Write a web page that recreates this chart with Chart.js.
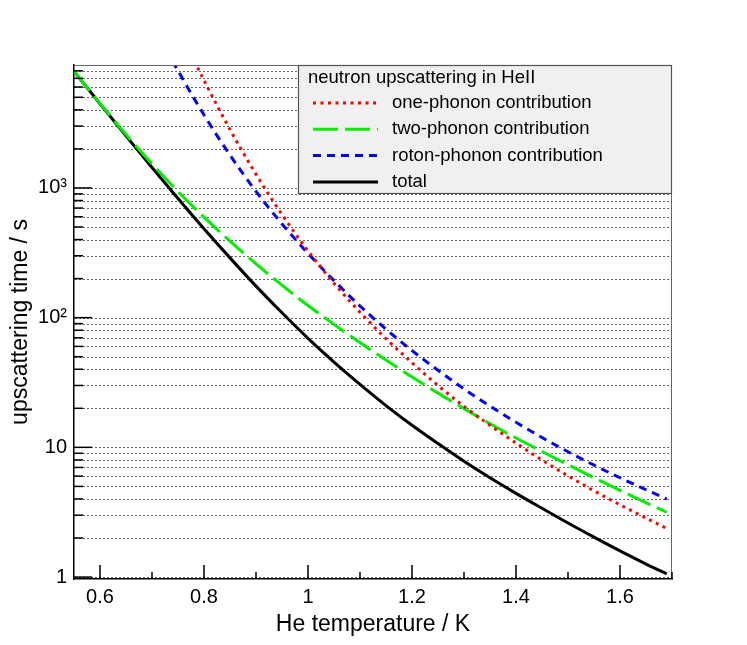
<!DOCTYPE html>
<html>
<head>
<meta charset="utf-8">
<script src="https://cdn.jsdelivr.net/npm/chart.js@4.4.1/dist/chart.umd.min.js"></script>
<style>
  html, body { margin: 0; padding: 0; background: #fff; }
</style>
</head>
<body>
<canvas id="chart" width="747" height="645"></canvas>
<script>
// temperatures in K, times in s
const temperatures = [0.55, 0.6, 0.65, 0.7, 0.75, 0.8, 0.85, 0.9, 0.95, 1.0, 1.05, 1.1,
                      1.15, 1.2, 1.25, 1.3, 1.35, 1.4, 1.45, 1.5, 1.55, 1.6, 1.65, 1.69];
const onePhonon = [null, null, null, null, 17400, 6760, 2820, 1274, 624, 327, 184, 110,
                   68.7, 44.9, 30.0, 20.7, 14.8, 10.8, 7.98, 6.03, 4.62, 3.61, 2.85, 2.37];
const twoPhonon = [7943, 4487, 2582, 1531, 938, 596, 389, 260, 178, 124, 88.7, 64.3,
                   47.1, 34.9, 26.2, 19.9, 15.2, 11.8, 9.29, 7.35, 5.83, 4.66, 3.74, 3.16];
const rotonPhonon = [null, null, null, 18300, 8000, 3656, 1791, 940, 528, 313, 193, 123,
                     81.5, 55.7, 39.3, 28.2, 20.8, 15.6, 11.9, 9.25, 7.29, 5.83, 4.71, 3.99];
const total = [7943, 4457, 2518, 1439, 830, 485, 289, 175, 109, 69.3, 45.5, 30.6,
               21.0, 14.8, 10.7, 7.82, 5.83, 4.42, 3.39, 2.61, 2.03, 1.59, 1.26, 1.06];

const yGridValues = [1, 2, 3, 4, 5, 6, 7, 8, 9,
                     10, 20, 30, 40, 50, 60, 70, 80, 90,
                     100, 200, 300, 400, 500, 600, 700, 800, 900,
                     1000, 2000, 3000, 4000, 5000, 6000, 7000, 8000];
const yTickLabels = {1: '1', 10: '10', 100: '10²', 1000: '10³'};
const xMajorTicks = [0.6, 0.8, 1, 1.2, 1.4, 1.6];
const xMinorTicks = [0.7, 0.9, 1.1, 1.3, 1.5, 1.7];

const legendTitle = 'neutron upscattering in HeII';

Chart.defaults.font.family = "'Liberation Sans', Arial, sans-serif";
Chart.defaults.color = '#000';

function toPoints(values) {
    return temperatures
        .map((t, i) => ({x: t, y: values[i]}))
        .filter(p => p.y !== null);
}

// dotted horizontal grid at every log tick
const gridPlugin = {
    id: 'dottedGrid',
    beforeDatasetsDraw(chart) {
        const {ctx, chartArea: a, scales: {y}} = chart;
        ctx.save();
        ctx.strokeStyle = '#666';
        ctx.lineWidth = 1;
        ctx.setLineDash([2, 2]);
        y.ticks.forEach(t => {
            const py = Math.round(y.getPixelForValue(t.value)) + 0.5;
            ctx.beginPath();
            ctx.moveTo(a.left + 1, py);
            ctx.lineTo(a.right, py);
            ctx.stroke();
        });
        ctx.restore();
    }
};

// frame, inward ticks and the boxed legend
const framePlugin = {
    id: 'frame',
    afterDraw(chart) {
        const {ctx, chartArea: a, scales: {x, y}} = chart;
        ctx.save();
        ctx.strokeStyle = '#666';
        ctx.lineWidth = 1;
        ctx.beginPath();
        ctx.moveTo(a.left, a.top + 0.5);
        ctx.lineTo(a.right - 0.5, a.top + 0.5);
        ctx.lineTo(a.right - 0.5, a.bottom);
        ctx.stroke();

        ctx.strokeStyle = '#000';
        ctx.lineWidth = 1.5;
        y.ticks.forEach(t => {
            const py = y.getPixelForValue(t.value);
            const len = yTickLabels[t.value] ? 18 : 9;
            ctx.beginPath();
            ctx.moveTo(a.left, py);
            ctx.lineTo(a.left + len, py);
            ctx.stroke();
        });
        x.ticks.forEach(t => {
            const px = x.getPixelForValue(t.value);
            const len = xMajorTicks.includes(t.value) ? 14 : 7;
            ctx.beginPath();
            ctx.moveTo(px, a.bottom);
            ctx.lineTo(px, a.bottom - len);
            ctx.stroke();
        });

        // legend
        const lx = 298.5, ly = a.top + 0.5, lw = a.right - 0.5 - lx, lh = 128;
        ctx.fillStyle = '#f0f0f0';
        ctx.fillRect(lx, ly, lw, lh);
        ctx.strokeStyle = '#555';
        ctx.lineWidth = 1.2;
        ctx.strokeRect(lx, ly, lw, lh);

        ctx.font = "18.5px 'Liberation Sans', Arial, sans-serif";
        ctx.fillStyle = '#000';
        ctx.textBaseline = 'middle';
        ctx.textAlign = 'left';
        ctx.fillText(legendTitle, 308, ly + 12);
        chart.data.datasets.forEach((ds, i) => {
            const ry = ly + 37.5 + i * 26.3;
            ctx.save();
            ctx.strokeStyle = ds.borderColor;
            ctx.lineWidth = ds.borderWidth;
            ctx.setLineDash(ds.borderDash || []);
            ctx.beginPath();
            ctx.moveTo(313, ry);
            ctx.lineTo(378, ry);
            ctx.stroke();
            ctx.restore();
            ctx.fillText(ds.label, 392, ry);
        });
        ctx.restore();
    }
};

new Chart(document.getElementById('chart'), {
    type: 'line',
    data: {
        datasets: [{
            label: 'one-phonon contribution',
            data: toPoints(onePhonon),
            borderColor: '#ff0000',
            borderWidth: 3,
            borderDash: [3, 4.5]
        }, {
            label: 'two-phonon contribution',
            data: toPoints(twoPhonon),
            borderColor: '#00ee00',
            borderWidth: 3,
            borderDash: [25, 7]
        }, {
            label: 'roton-phonon contribution',
            data: toPoints(rotonPhonon),
            borderColor: '#0000ff',
            borderWidth: 3,
            borderDash: [8, 6]
        }, {
            label: 'total',
            data: toPoints(total),
            borderColor: '#000000',
            borderWidth: 3
        }]
    },
    options: {
        responsive: false,
        animation: false,
        layout: {padding: {left: 0, top: 65, right: 75, bottom: 0}},
        elements: {
            point: {radius: 0},
            line: {cubicInterpolationMode: 'monotone', fill: false}
        },
        plugins: {
            legend: {display: false},
            tooltip: {enabled: false}
        },
        scales: {
            x: {
                type: 'linear',
                min: 0.55,
                max: 1.7,
                afterBuildTicks: s => {
                    s.ticks = xMajorTicks.concat(xMinorTicks)
                        .sort((a, b) => a - b)
                        .map(v => ({value: v}));
                },
                afterFit: s => { s.height = 66; },
                ticks: {
                    autoSkip: false,
                    maxRotation: 0,
                    padding: 6,
                    font: {size: 20},
                    callback: v => xMajorTicks.includes(v) ? String(v) : ''
                },
                grid: {display: false, drawTicks: false},
                border: {display: true, color: '#000', width: 1.5},
                title: {
                    display: true,
                    text: 'He temperature / K',
                    font: {size: 23},
                    padding: {top: 0, bottom: 7}
                }
            },
            y: {
                type: 'logarithmic',
                min: 0.966,
                max: 8870,
                afterBuildTicks: s => {
                    s.ticks = yGridValues.map(v => ({value: v}));
                },
                afterFit: s => { s.width = 74; },
                ticks: {
                    autoSkip: false,
                    padding: 7,
                    font: {size: 20},
                    callback: v => yTickLabels[v] || ''
                },
                grid: {display: false, drawTicks: false},
                border: {display: true, color: '#000', width: 1.5},
                title: {
                    display: true,
                    text: 'upscattering time / s',
                    font: {size: 23},
                    padding: {top: 7, bottom: 0}
                }
            }
        }
    },
    plugins: [gridPlugin, framePlugin]
});
</script>
</body>
</html>
